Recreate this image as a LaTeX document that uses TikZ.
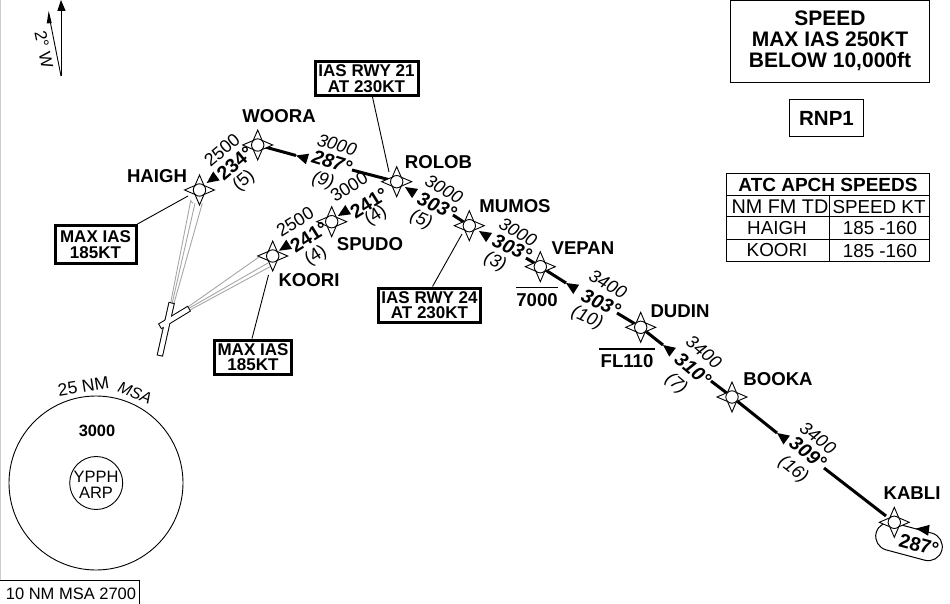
\documentclass[tikz,border=0pt]{standalone}
\usepackage{fontspec}
\setmainfont{Liberation Sans}
\usetikzlibrary{calc,backgrounds,shapes.misc}
\tikzset{
  wpt/.style={circle,draw=black,fill=white,line width=0.9pt,minimum size=12.4pt,inner sep=0pt},
  starshape/.style={draw=black,fill=white,line width=0.9pt,line join=miter},
  leg/.style={line width=3pt,black},
  leader/.style={line width=0.9pt,black},
  fine/.style={line width=0.9pt,black},
  appr/.style={line width=0.9pt,gray!70},
  fixname/.style={font=\fontsize{18.6}{20}\selectfont\bfseries,inner sep=0pt},
  brg/.style={font=\fontsize{19.5}{22}\selectfont\bfseries,inner sep=0pt},
  brgi/.style={font=\fontsize{19.5}{22}\selectfont\bfseries\itshape,inner sep=0pt},
  altl/.style={font=\fontsize{18}{20}\selectfont,inner sep=0pt},
  alti/.style={font=\fontsize{18}{20}\selectfont\itshape,inner sep=0pt},
  heavybox/.style={draw=black,line width=3pt,fill=white,inner sep=0pt,align=center,font=\fontsize{17}{15.5}\selectfont\bfseries},
  plainbox/.style={draw=black,line width=1pt,inner sep=0pt},
  boxtext/.style={inner sep=0pt,align=center,font=\fontsize{21}{20.8}\selectfont\bfseries},
  cellb/.style={font=\fontsize{19}{20}\selectfont\bfseries,inner sep=0pt},
  cell/.style={font=\fontsize{18.8}{20}\selectfont,inner sep=0pt},
  msatext/.style={font=\fontsize{16.5}{18}\selectfont,inner sep=0pt},
}
\newcommand{\waypt}[3]{%
  \draw[starshape,shift={(#2,#3)}] (0,-15)--(4.5,-4.5)--(15,0)--(4.5,4.5)--(0,15)--(-4.5,4.5)--(-15,0)--(-4.5,-4.5)--cycle;
  \node[wpt] (#1) at (#2,#3) {};}
% tip at the named point; the wide end lies at the given angle, measured clockwise on the page
\newcommand{\legtip}[3]{%
  \fill[black,shift={(#1)},rotate=-#2] (0,0)--(#3,-5.5)--(#3,5.5)--cycle;}
\begin{document}
\begin{tikzpicture}[x=1pt,y=-1pt]
\useasboundingbox (0,0) rectangle (950,604);
% left edge
\draw[line width=1.2pt,gray!40] (0.6,0) -- (0.6,580);
% waypoints
\waypt{HAIGH}{199.5}{190}
\waypt{WOORA}{257.7}{145}
\waypt{ROLOB}{396.7}{181.7}
\waypt{SPUDO}{331.7}{221.7}
\waypt{KOORI}{272.7}{256}
\waypt{MUMOS}{469.3}{225.7}
\waypt{VEPAN}{540.3}{266.7}
\waypt{DUDIN}{640.7}{327.3}
\waypt{BOOKA}{732}{397}
\waypt{KABLI}{894.3}{522.3}
% named coordinates on the legs
\coordinate (wrA) at (296,155.5);
\coordinate (wrB) at (352,170);
\coordinate (rsT) at (338,216);
\coordinate (skT) at (279,250.7);
\coordinate (hwT) at (206.7,183);
\coordinate (rmT) at (405,187);
\coordinate (rmB) at (453,215);
\coordinate (mvT) at (479,231);
\coordinate (mvB) at (526,258);
\coordinate (vdT) at (566,283);
\coordinate (vdB) at (617,313);
\coordinate (dbT) at (663,345);
\coordinate (dbB) at (711,381);
\coordinate (bkT) at (777,433);
\coordinate (bkB) at (824,468);
\coordinate (kbE) at (886,516);
\coordinate (khT) at (916,528.5);
\begin{scope}[on background layer]
  \draw[leg] (WOORA) -- (wrA);
  \draw[leg] (wrB) -- (ROLOB);
  \draw[leg] (rmB) -- (MUMOS);
  \draw[leg] (mvB) -- (VEPAN);
  \draw[leg] (VEPAN) -- (vdT);
  \draw[leg] (vdB) -- (DUDIN);
  \draw[leg] (DUDIN) -- (dbT);
  \draw[leg] (dbB) -- (BOOKA);
  \draw[leg] (BOOKA) -- (bkT);
  \draw[leg] (bkB) -- (kbE);
  \node[draw=black,line width=1pt,rounded rectangle,minimum width=68pt,minimum height=28pt,rotate=-15,inner sep=0pt] (hold) at (909,541.5) {};
\end{scope}
\legtip{wrA}{17}{12}
\legtip{rsT}{-32}{12}
\legtip{skT}{-32}{12}
\legtip{hwT}{-36}{12}
\legtip{rmT}{33}{12}
\legtip{mvT}{33}{12}
\legtip{vdT}{32}{12}
\legtip{dbT}{37}{12}
\legtip{bkT}{36}{12}
\legtip{khT}{8}{13}
% fix names
\node[fixname] (tHAIGH) at (157,175.7) {HAIGH};
\node[fixname] (tWOORA) at (279,115.7) {WOORA};
\node[fixname] (tROLOB) at (438.5,162) {ROLOB};
\node[fixname] (tSPUDO) at (370,244) {SPUDO};
\node[fixname] (tKOORI) at (309,280) {KOORI};
\node[fixname] (tMUMOS) at (515,206) {MUMOS};
\node[fixname] (tVEPAN) at (583,248) {VEPAN};
\node[fixname] (tDUDIN) at (680,311) {DUDIN};
\node[fixname] (tBOOKA) at (778,379) {BOOKA};
\node[fixname] (tKABLI) at (912,493) {KABLI};
\node[fixname] (t7000) at (537,300) {7000};
\coordinate (o7a) at (516,287.7); \coordinate (o7b) at (558,287.7);
\draw[line width=1.5pt] (o7a) -- (o7b);
\node[fixname] (tFL) at (627,360.7) {FL110};
\coordinate (oFa) at (599,349); \coordinate (oFb) at (655,349);
\draw[line width=1.5pt] (oFa) -- (oFb);
% leg labels
\node[altl,rotate=40] (a1) at (222,150) {2500};
\node[brg,rotate=40] (b1) at (235,163) {234°};
\node[altl,rotate=40] (d1) at (244,181) {(5)};
\node[alti,rotate=-17] (a2) at (337,145) {3000};
\node[brgi,rotate=-17] (b2) at (332,162) {287°};
\node[alti,rotate=-17] (d2) at (323,181) {(9)};
\node[altl,rotate=32] (a3) at (349,187) {3000};
\node[brg,rotate=32] (b3) at (369,203) {241°};
\node[altl,rotate=32] (d3) at (376,216) {(4)};
\node[altl,rotate=32] (a4) at (295,222) {2500};
\node[brg,rotate=32] (b4) at (309,237) {241°};
\node[altl,rotate=32] (d4) at (316,256) {(4)};
\node[alti,rotate=-30] (a5) at (444,189) {3000};
\node[brgi,rotate=-24] (b5) at (437,206) {303°};
\node[alti,rotate=-24] (d5) at (421,220) {(5)};
\node[alti,rotate=-30] (a6) at (518,232) {3000};
\node[brgi,rotate=-24] (b6) at (512,248) {303°};
\node[alti,rotate=-24] (d6) at (495,262) {(3)};
\node[alti,rotate=-30] (a7) at (608,284) {3400};
\node[brgi,rotate=-24] (b7) at (601,303) {303°};
\node[alti,rotate=-24] (d7) at (587,318) {(10)};
\node[alti,rotate=-40] (a8) at (704,352) {3400};
\node[brgi,rotate=-40] (b8) at (693,369) {310°};
\node[alti,rotate=-40] (d8) at (676,384) {(7)};
\node[alti,rotate=-38] (a9) at (818,438) {3400};
\node[brgi,rotate=-38] (b9) at (808,453) {309°};
\node[alti,rotate=-38] (d9) at (793,470) {(16)};
\node[brg,rotate=-15] (b10) at (919,545) {287°};
% boxes with leaders
\node[heavybox,minimum width=103pt,minimum height=34pt] (ias21) at (366.5,78.5) {IAS RWY 21\\AT 230KT};
\coordinate (l21) at (389,172);
\draw[leader] ($(ias21.south)+(6,0)$) -- (l21);
\node[heavybox,minimum width=81pt,minimum height=38pt] (max1) at (95.5,244.5) {MAX IAS\\185KT};
\coordinate (lm1) at (188,196);
\draw[leader] (max1.north east) -- (lm1);
\node[heavybox,minimum width=77pt,minimum height=34pt] (max2) at (253,357) {MAX IAS\\185KT};
\coordinate (lm2) at (268.5,275);
\draw[leader] ($(max2.north)+(-1,0)$) -- (lm2);
\node[heavybox,minimum width=102pt,minimum height=34pt] (ias24) at (429.5,305) {IAS RWY 24\\AT 230KT};
\coordinate (l24) at (462,234);
\draw[leader] ($(ias24.north)+(3,0)$) -- (l24);
% runways and approach tracks
\coordinate (rwA) at (171.5,303.5); \coordinate (rwB) at (160,355);
\coordinate (rwC) at (188.5,309); \coordinate (rwD) at (160.5,326);
\coordinate (apH1) at (190.7,200.7); \coordinate (apH0) at (193,203.3);
\coordinate (apH2) at (195,203.3); \coordinate (apH3) at (202.3,203.3);
\coordinate (apK1) at (259,257); \coordinate (apK2) at (268,263); \coordinate (apK3) at (270,266.7);
\draw[appr] (170.7,302.7) -- (apH1) -- (apH0);
\draw[appr] (172.3,302.7) -- (apH2);
\draw[appr] (174,303.3) -- (apH3);
\draw[appr] (188.3,306.7) -- (apK1);
\draw[appr] (189,308.3) -- (apK2);
\draw[appr] (190,310) -- (apK3);
\draw[line width=6.4pt,black,shorten <=-1pt,shorten >=-1pt] (rwA) -- (rwB);
\draw[line width=6.4pt,black,shorten <=-1pt,shorten >=-1pt] (rwC) -- (rwD);
\draw[line width=4.4pt,white] (rwA) -- (rwB);
\draw[line width=4.4pt,white] (rwC) -- (rwD);
% compass
\coordinate (cBase) at (61,76);
\coordinate (cTrue) at (61,6);
\coordinate (cMag) at (48.7,14);
\draw[fine] (cBase) -- (cTrue);
\draw[fine] (cBase) -- (cMag);
\fill[black] (61,0) -- (65.7,11) -- (57.3,11) -- cycle;
\fill[black] (48.7,11) -- (51.7,23) -- (46.7,23.5) -- cycle;
\node[altl,rotate=-78,font=\fontsize{17}{18}\selectfont] (cvar) at (44,49.5) {2° W};
% MSA
\node[circle,draw=black,line width=0.9pt,minimum size=174pt,inner sep=0pt] (msa) at (96,483) {};
\node[circle,draw=black,line width=0.9pt,minimum size=53pt,inner sep=0pt] (arp) at (96.2,483) {};
\node[msatext] (ypph) at (96,476.7) {YPPH};
\node[msatext] (arpt) at (96,492.7) {ARP};
\node[font=\fontsize{16.4}{18}\selectfont\bfseries,inner sep=0pt] (s3000) at (97,431) {3000};
\node[msatext,rotate=9,font=\fontsize{17.5}{18}\selectfont] (nm25) at (83.5,386.5) {25 NM};
\node[msatext,rotate=-22,font=\fontsize{16}{18}\selectfont\itshape] (msat) at (135,393) {MSA};
\coordinate (b10a) at (0,580.7); \coordinate (b10b) at (139.7,580.7); \coordinate (b10c) at (139.7,604);
\draw[line width=0.9pt] (b10a) -- (b10b) -- (b10c);
\node[msatext] (b10t) at (71,594) {10 NM MSA 2700};
% top right boxes
\node[plainbox,minimum width=199pt,minimum height=82pt] (speed) at (829.5,41.3) {};
\node[boxtext] (speedt) at (830,41) {SPEED\\MAX IAS 250KT\\BELOW 10,000ft};
\node[plainbox,minimum width=74.4pt,minimum height=37pt,font=\fontsize{20.5}{22}\selectfont\bfseries] (rnp) at (826.5,118.5) {RNP1};
% table
\draw[line width=1pt] (726,173.7) rectangle (929.3,261.7);
\coordinate (t1l) at (726,195.3); \coordinate (t1r) at (929.3,195.3);
\coordinate (t2l) at (726,217); \coordinate (t2r) at (929.3,217);
\coordinate (t3l) at (726,239); \coordinate (t3r) at (929.3,239);
\coordinate (tct) at (829.3,195.3); \coordinate (tcb) at (829.3,261.7);
\draw[line width=1pt] (t1l) -- (t1r);
\draw[line width=1pt] (t2l) -- (t2r);
\draw[line width=1pt] (t3l) -- (t3r);
\draw[line width=1pt] (tct) -- (tcb);
\node[cellb] (th) at (828,185) {ATC APCH SPEEDS};
\node[cell,font=\fontsize{19.8}{20}\selectfont] (c11) at (780,206.7) {NM FM TD};
\node[cell] (c12) at (879,206.7) {SPEED KT};
\node[cell] (c21) at (777,228) {HAIGH};
\node[cell] (c22) at (880,228) {185 -160};
\node[cell] (c31) at (777,250.5) {KOORI};
\node[cell] (c32) at (880,251) {185 -160};
\end{tikzpicture}
\end{document}
